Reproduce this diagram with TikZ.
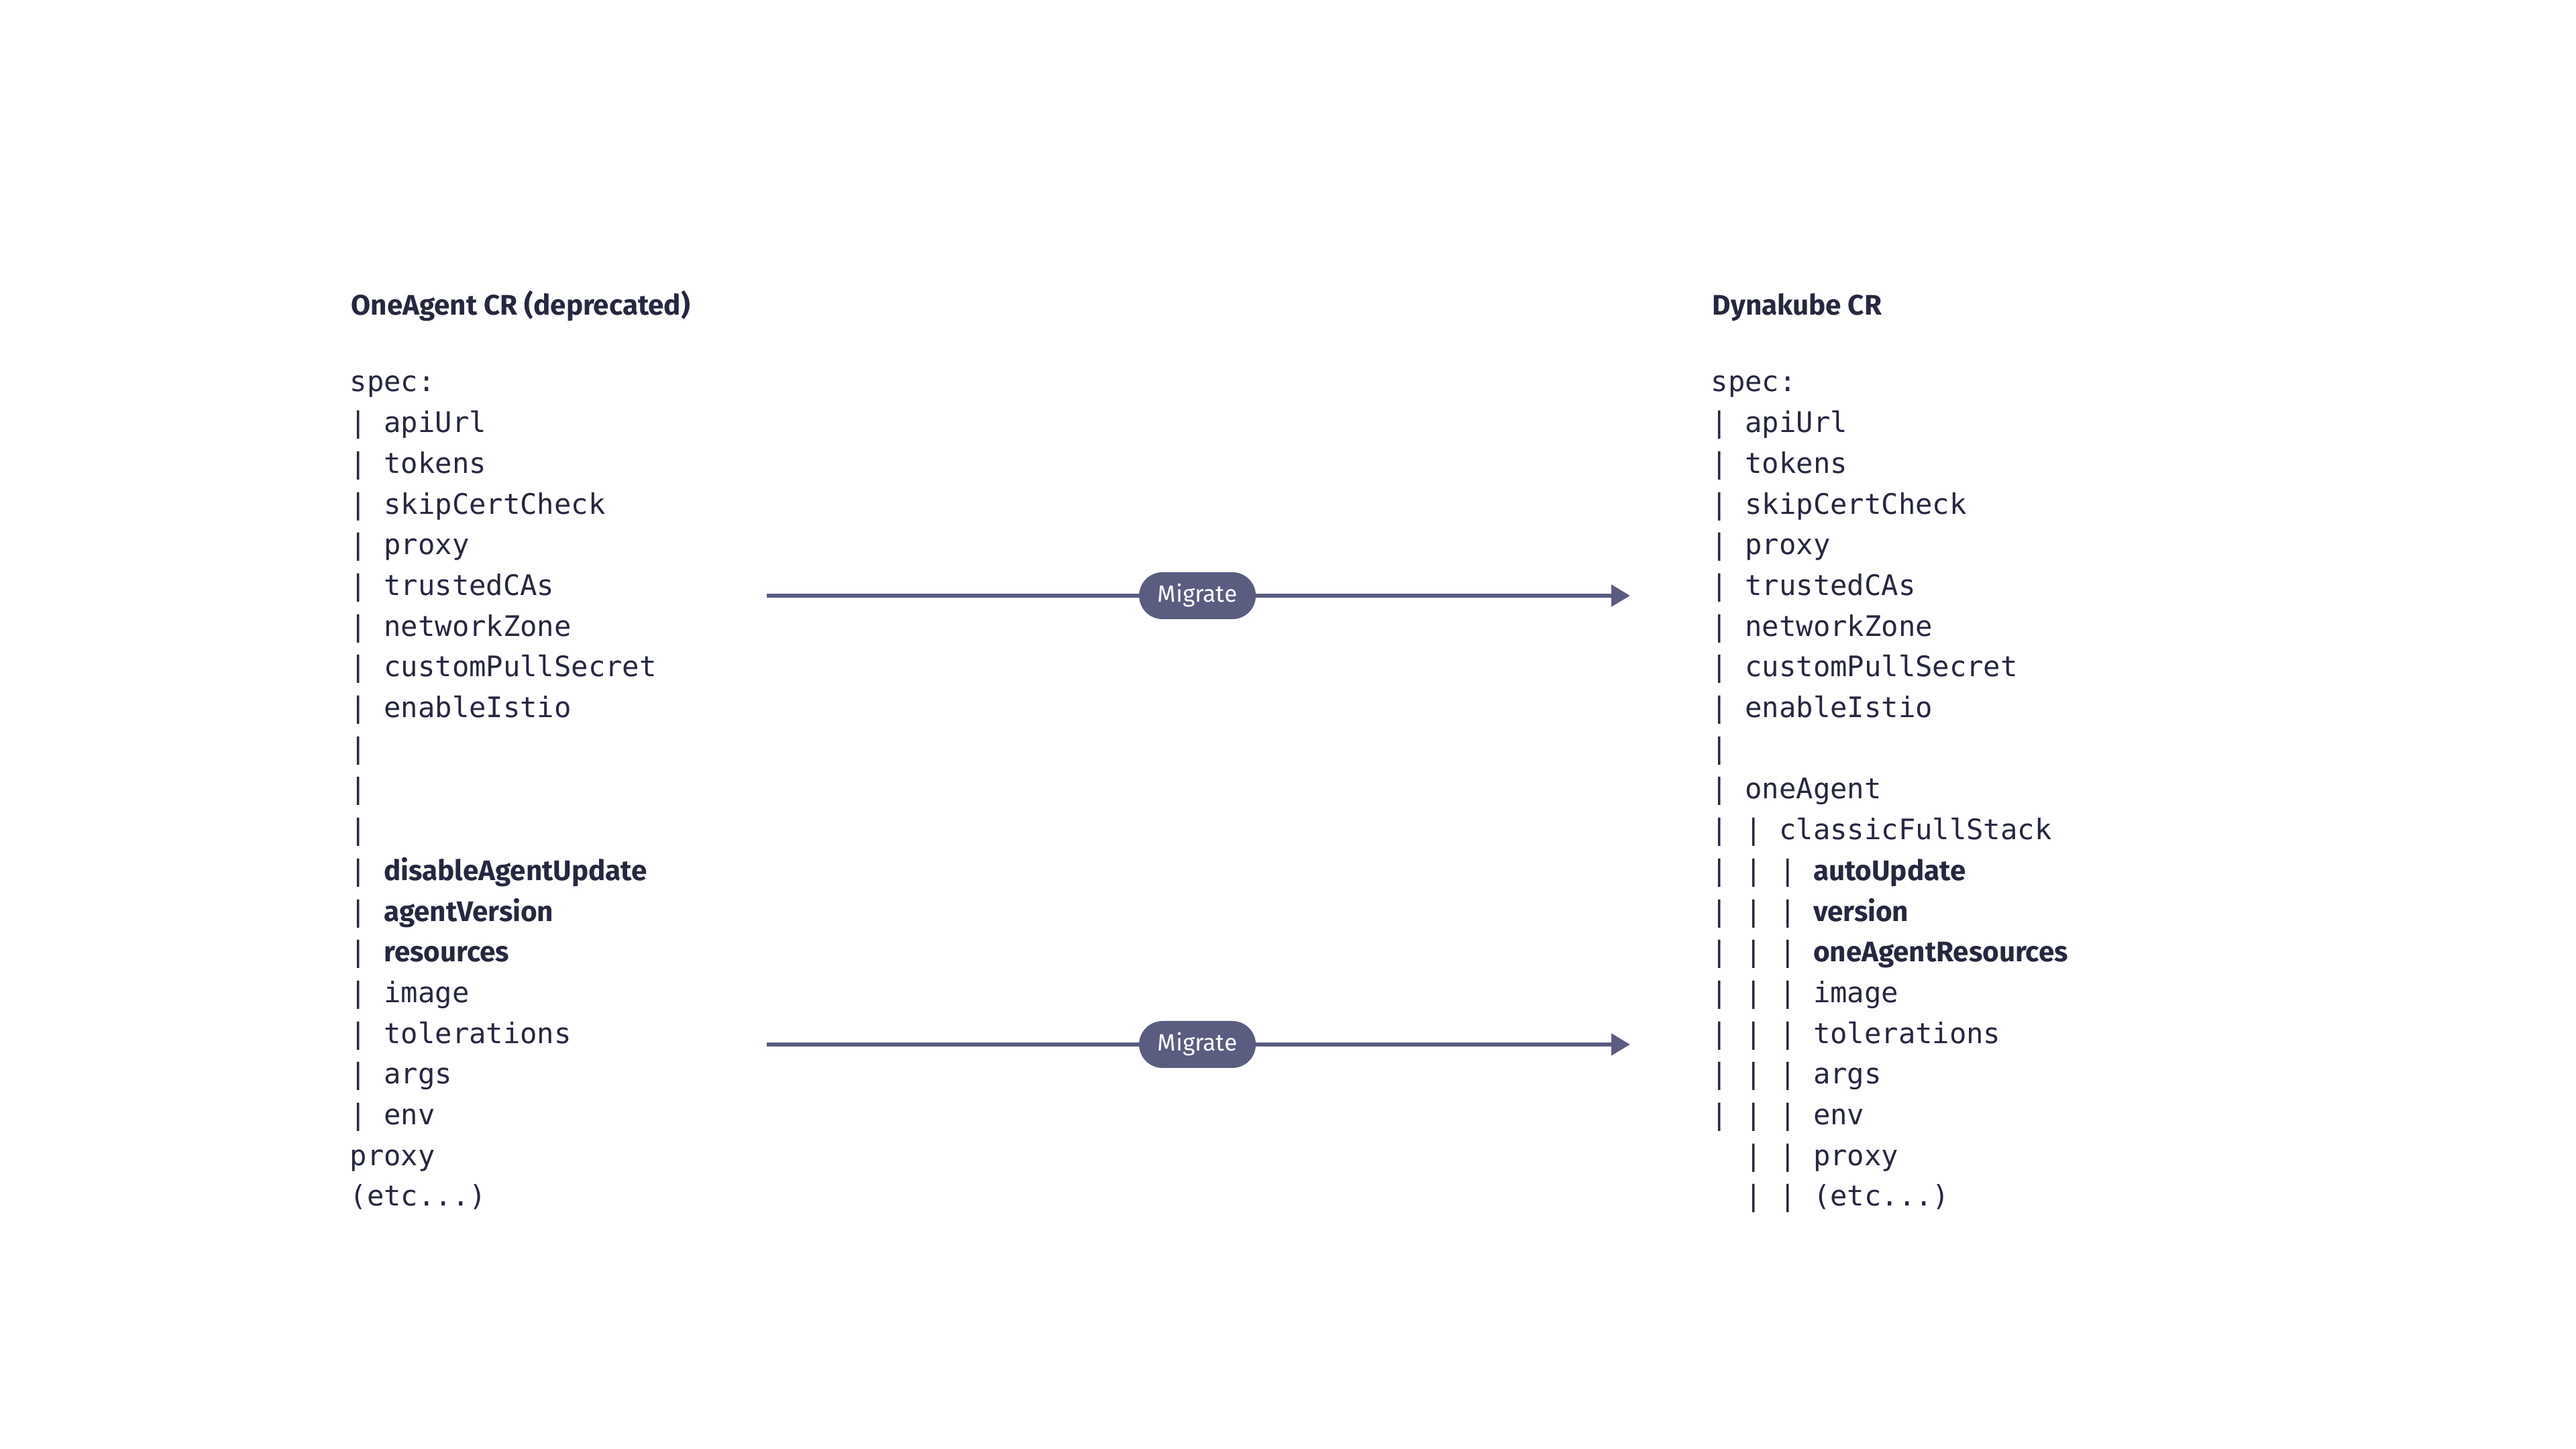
\documentclass[tikz,border=0pt]{standalone}
\usepackage{fontspec}
\setmonofont{DejaVu Sans Mono}
\setsansfont{Fira Sans}
\usetikzlibrary{arrows.meta}
\definecolor{ink}{HTML}{262840}
\definecolor{pill}{HTML}{5A5C80}
\def\d{0.607}
% one row of a listing: #1 = name, #2 = x, #3 = row, #4 = text
\def\zeile#1#2#3#4{\node[row] (#1) at (#2,{15.76-#3*\d}) {#4};}
\def\fett#1{{\sffamily\bfseries #1}}
\def\etc{(etc...)}
\begin{document}
\begin{tikzpicture}[>={Triangle[length=8pt,width=9pt]},
  row/.style={anchor=base west,inner sep=0pt,font=\ttfamily\fontsize{12}{14}\selectfont,text=ink},
  title/.style={anchor=base west,inner sep=0pt,font=\sffamily\bfseries\fontsize{12}{14}\selectfont,text=ink},
  pfeil/.style={->,draw=pill,line width=1.7pt},
  badge/.style={fill=pill,text=white,rounded corners=0.35cm,minimum height=0.7cm,minimum width=1.74cm,inner sep=0pt,font=\sffamily\fontsize{10}{12}\selectfont}]
\useasboundingbox (0,0) rectangle (38.4,21.6);

\node[title] (ltitle) at (5.23,16.9) {OneAgent CR (deprecated)};
\node[title] (rtitle) at (25.52,16.9) {Dynakube CR};

% linke Seite
\foreach \t [count=\i from 0] in {spec:,| apiUrl,| tokens,| skipCertCheck,| proxy,| trustedCAs,
  | networkZone,| customPullSecret,| enableIstio,|,|,|,
  | \fett{disableAgentUpdate},| \fett{agentVersion},| \fett{resources},
  | image,| tolerations,| args,| env,proxy,\etc}{
  \zeile{l\i}{5.21}{\i}{\t}
}

% rechte Seite
\foreach \t [count=\i from 0] in {spec:,| apiUrl,| tokens,| skipCertCheck,| proxy,| trustedCAs,
  | networkZone,| customPullSecret,| enableIstio,|,| oneAgent,| | classicFullStack,
  | | | \fett{autoUpdate},| | | \fett{version},| | | \fett{oneAgentResources},
  | | | image,| | | tolerations,| | | args,| | | env,\ \ | | proxy,\ \ | | \etc}{
  \zeile{r\i}{25.5}{\i}{\t}
}

% Pfeile
\coordinate (a1) at (11.43,12.72);
\coordinate (b1) at (24.3,12.72);
\coordinate (a2) at (11.43,6.03);
\coordinate (b2) at (24.3,6.03);
\draw[pfeil] (a1) -- (b1);
\draw[pfeil] (a2) -- (b2);
\node[badge] (m1) at (17.85,12.72) {Migrate};
\node[badge] (m2) at (17.85,6.03) {Migrate};
\end{tikzpicture}
\end{document}
